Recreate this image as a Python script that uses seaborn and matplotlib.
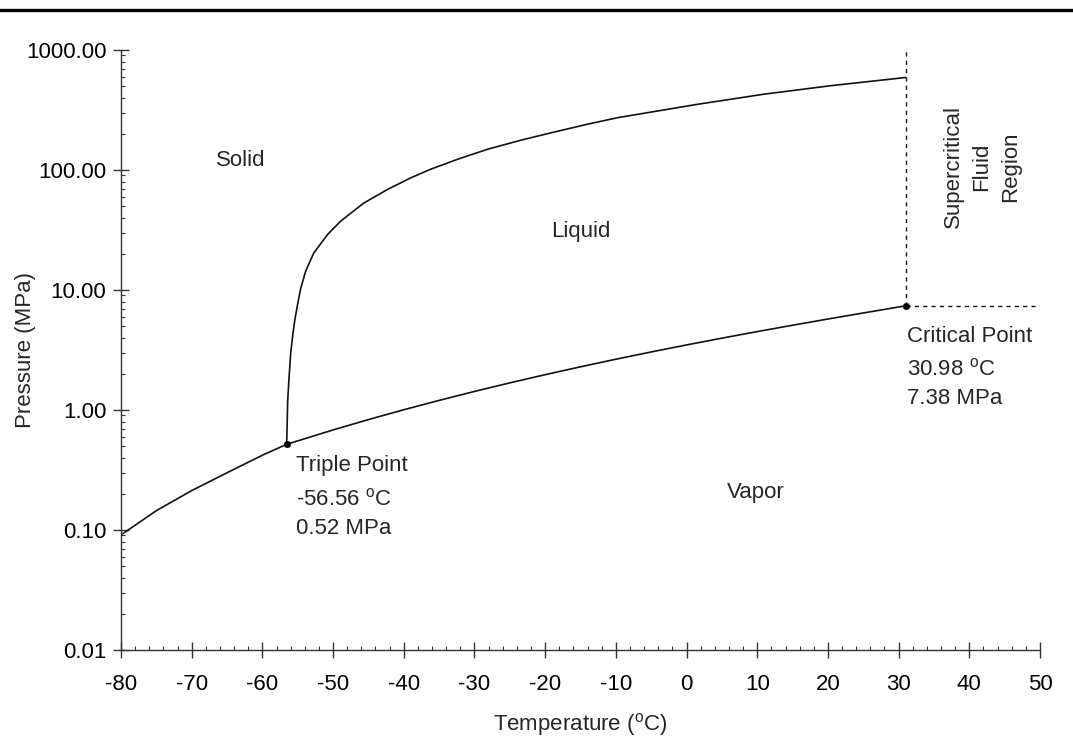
import numpy as np
import pandas as pd
import matplotlib
matplotlib.use("Agg")
import matplotlib.pyplot as plt
from matplotlib.lines import Line2D
from matplotlib.ticker import FixedLocator, LogLocator, FuncFormatter, NullFormatter
import seaborn as sns

# ---------------- data ----------------
# sublimation curve (solid-vapor)
sub_T = [-80.0, -75.0, -70.0, -65.0, -60.0, -56.56]
sub_P = [0.091, 0.145, 0.213, 0.300, 0.420, 0.518]

# vaporisation curve (liquid-vapor)
vap_T = [-56.56, -50, -45, -40, -35, -30, -25, -20, -15, -10, -5, 0, 5, 10, 15, 20, 25, 30, 30.98]
vap_P = [0.518, 0.682, 0.832, 1.005, 1.202, 1.428, 1.683, 1.97, 2.29, 2.649, 3.046, 3.485,
         3.969, 4.502, 5.086, 5.729, 6.434, 7.214, 7.38]

# melting curve (solid-liquid)
melt_T = [-56.56, -56.42, -56.23, -55.99, -55.75, -55.43, -55.00, -54.58, -53.87, -52.74,
          -50.76, -48.92, -45.67, -42.27, -39.02, -36.19, -32.37, -28.13, -23.46, -19.64,
          -13.98, -9.74, 1.58, 10.92, 20.40, 30.98]
melt_P = [0.518, 1.2, 1.85, 3.0, 4.0, 5.55, 7.7, 10.3, 14.4, 20.3,
          29.1, 37.5, 53.0, 69.0, 86.0, 101.5, 123.0, 149.0, 177.0, 201.0,
          241.0, 273.0, 353.0, 428.0, 504.0, 590.0]

triple_T, triple_P = -56.56, 0.52
crit_T, crit_P = 30.98, 7.38

x_ticks = [-80, -70, -60, -50, -40, -30, -20, -10, 0, 10, 20, 30, 40, 50]
y_ticks = [0.01, 0.10, 1.00, 10.00, 100.00, 1000.00]

regions = ["Solid", "Liquid", "Vapor", "Supercritical\nFluid\nRegion"]
region_T = [-63.0, -15.0, 9.8, 41.8]
region_P = [119.0, 31.0, 0.207, 106.0]

# ---------------- style ----------------
sns.set_theme(style="ticks")
plt.rcParams["font.family"] = ["Liberation Sans", "DejaVu Sans"]
plt.rcParams["mathtext.default"] = "regular"
FS = 16

fig = plt.figure(figsize=(10.73, 7.38), dpi=100)
ax = fig.add_axes([121 / 1073, 1 - 650 / 738, (1040 - 121) / 1073, 600 / 738])

curves = pd.concat([
    pd.DataFrame({"T": sub_T, "P": sub_P, "curve": "sub"}),
    pd.DataFrame({"T": vap_T, "P": vap_P, "curve": "vap"}),
    pd.DataFrame({"T": melt_T, "P": melt_P, "curve": "melt"}),
])
for name, d in curves.groupby("curve", sort=False):
    sns.lineplot(data=d, x="T", y="P", ax=ax, color="#111111", lw=1.2,
                 estimator=None, sort=False, legend=False)

ax.set_yscale("log")
ax.set_xlim(x_ticks[0], x_ticks[-1])
ax.set_ylim(y_ticks[0], y_ticks[-1])

# dashed boundaries of the supercritical region
ax.plot([crit_T, crit_T], [crit_P, y_ticks[-1]], color="#111111", lw=1.0, ls=(0, (3, 3)))
ax.plot([crit_T, x_ticks[-1]], [crit_P, crit_P], color="#111111", lw=1.0, ls=(0, (3, 3)))

pts = pd.DataFrame({"T": [triple_T, crit_T], "P": [triple_P, crit_P]})
sns.scatterplot(data=pts, x="T", y="P", ax=ax, color="black", s=22, edgecolor="black",
                zorder=5, legend=False)

# ticks
ax.xaxis.set_major_locator(FixedLocator(x_ticks))
ax.xaxis.set_minor_locator(FixedLocator(np.arange(-80, 51, 2)))
ax.set_xticklabels([str(t) for t in x_ticks])
ax.yaxis.set_major_locator(FixedLocator(y_ticks))
ax.yaxis.set_minor_locator(LogLocator(base=10, subs=np.arange(2, 10), numticks=20))
ax.yaxis.set_major_formatter(FuncFormatter(lambda v, p: f"{v:.2f}"))
ax.yaxis.set_minor_formatter(NullFormatter())

for s in ["top", "right"]:
    ax.spines[s].set_visible(False)
for s in ["left", "bottom"]:
    ax.spines[s].set_color("#333333")
    ax.spines[s].set_linewidth(1.0)

ax.tick_params(which="both", bottom=True, left=True, top=False, right=False)
ax.tick_params(which="major", direction="inout", length=11, width=1.0, color="#333333",
               labelsize=FS, labelcolor="black", pad=5)
ax.tick_params(which="minor", direction="in", length=3, width=0.8, color="#333333")
ax.tick_params(axis="x", which="major", pad=11.5)

ax.set_xlabel("Temperature ($^{o}$C)", fontsize=FS)
ax.set_ylabel("Pressure (MPa)", fontsize=FS)
ax.xaxis.set_label_coords(0.5, -0.102)
ax.yaxis.set_label_coords(-0.093, 0.5)

# region labels
for txt, t, p in zip(regions, region_T, region_P):
    rot = 90 if "\n" in txt else 0
    ax.text(t, p, txt, fontsize=FS, ha="center", va="center", rotation=rot,
            multialignment="center", linespacing=1.5)

# point annotations
def annotate(T, P, title, dx, dys):
    lines = [title, f"{T:.2f} $^{{o}}$C", f"{P:.2f} MPa"]
    for ln, dy in zip(lines, dys):
        ax.annotate(ln, xy=(T, P), xytext=(dx, dy), textcoords="offset pixels",
                    fontsize=FS, ha="left", va="center")

annotate(triple_T, triple_P, "Triple Point", 9, [-21, -55, -84])
annotate(crit_T, crit_P, "Critical Point", 1, [-31, -64, -93])

# top border line
fig.add_artist(Line2D([0, 1], [1 - 10 / 738, 1 - 10 / 738], transform=fig.transFigure,
                      color="black", lw=2.4))

fig.savefig("out.png", dpi=100)
